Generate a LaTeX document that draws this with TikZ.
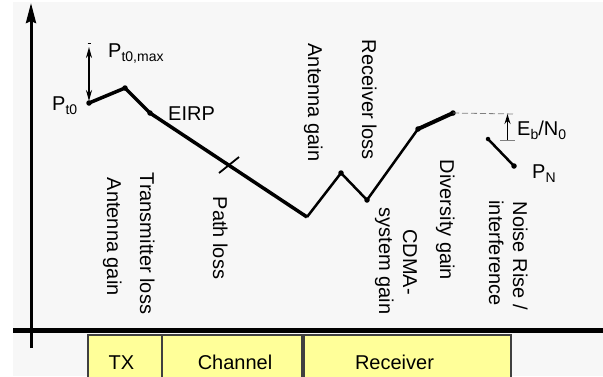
\documentclass[tikz,border=0pt]{standalone}
\usepackage{fontspec}
\setmainfont{Liberation Sans}
\usetikzlibrary{arrows.meta}
\definecolor{bg}{HTML}{F7F7F7}
\definecolor{boxyel}{HTML}{FFFF99}
\newcommand{\sbs}[1]{\raisebox{-4.5pt}{\fontsize{14}{14}\selectfont #1}}
\begin{document}
\begin{tikzpicture}[x=1pt,y=-1pt,
  lbl/.style={font=\fontsize{20}{24}\selectfont, inner sep=0pt},
  vlbl/.style={lbl, rotate=-90, anchor=base},
  dot/.style={circle, fill=black, inner sep=0pt, minimum size=5.5pt},
  boxst/.style={draw=black!75, fill=boxyel, line width=1.5pt, inner sep=0pt, anchor=north west, minimum height=46pt},
  curvethick/.style={line width=3.5pt, line join=round},
  curvethin/.style={line width=2.5pt, line join=round},
  guide/.style={gray, line width=0.8pt}]
\useasboundingbox (0,0) rectangle (603,376);
\fill[bg] (13,2) rectangle (603,376);

% boxes
\node[boxst, minimum width=74pt] (tx) at (87,334) {};
\node[boxst, minimum width=140pt] (ch) at (161,334) {};
\node[boxst, minimum width=207pt] (rx) at (303,334) {};
\node[lbl, anchor=base] (ttx) at (121.5,369) {TX};
\node[lbl, anchor=base] (tch) at (235,369) {Channel};
\node[lbl, anchor=base] (trx) at (394.5,369) {Receiver};

% axes
\coordinate (hl) at (13,330.5);
\coordinate (hr) at (603,330.5);
\draw[line width=4.5pt] (hl) -- (hr);
\coordinate (axb) at (31,348);
\coordinate (axt) at (31,3);
\draw[line width=3pt, -{Stealth[length=20pt,width=10pt,inset=2pt]}] (axb) -- (axt);

% curve points
\node[dot] (pt0) at (89,103) {};
\node[dot] (peak) at (125,88) {};
\node[dot] (eirp) at (150,113) {};
\coordinate (bot) at (307,217);
\node[dot] (ag) at (341,173) {};
\node[dot] (rl) at (367,200) {};
\node[dot] (dv) at (418,129) {};
\node[dot] (top) at (453,113) {};
\node[dot, minimum size=4.5pt] (n1) at (488,139) {};
\node[dot] (pn) at (514,166) {};

\draw[curvethick] (pt0.center) -- (peak.center) -- (eirp.center) -- (bot);
\draw[curvethin] (bot) -- (ag.center) -- (rl.center) -- (dv.center);
\draw[line width=4pt, line cap=round] (dv.center) -- (top.center);
\draw[line width=2.5pt] (n1.center) -- (pn.center);

% path loss tick
\coordinate (tk1) at (219,173);
\coordinate (tk2) at (239,157);
\draw[line width=1.8pt] (tk1) -- (tk2);

% Pt0,max arrow
\coordinate (pma) at (89,47);
\coordinate (pmb) at (89,101);
\draw[line width=1.5pt, {Stealth[length=11pt,width=6pt]}-{Stealth[length=11pt,width=6pt]}] (pma) -- (pmb);
\coordinate (dsh1) at (87.5,43);
\coordinate (dsh2) at (90.5,43);
\draw[line width=1pt] (dsh1) -- (dsh2);

% Eb/N0 marker
\coordinate (ebu) at (515,114);
\coordinate (ebl1) at (500,140);
\coordinate (ebl2) at (515,140);
\draw[guide, dash pattern=on 6pt off 3pt] (top.center) -- (ebu);
\draw[guide] (ebl1) -- (ebl2);
\coordinate (ea) at (507.5,140);
\coordinate (eb) at (507.5,114);
\draw[line width=1.5pt, -{Stealth[length=10pt,width=6pt]}] (ea) -- (eb);

% labels
\node[lbl, anchor=base west] (lpt0) at (52,110) {P\sbs{t0}};
\node[lbl, anchor=base west] (lpmax) at (108,57) {P\sbs{t0,max}};
\node[lbl, anchor=base west] (leirp) at (168,120) {EIRP};
\node[lbl, anchor=base west] (leb) at (517,135) {E\sbs{b}/N\sbs{0}};
\node[lbl, anchor=base west] (lpn) at (532,178) {P\sbs{N}};

% rotated labels
\node[vlbl] (vag1) at (107,236.7) {Antenna gain};
\node[vlbl] (vtl) at (140,243.3) {Transmitter loss};
\node[vlbl] (vpl) at (213,238) {Path loss};
\node[vlbl] (vag2) at (308,102.5) {Antenna gain};
\node[vlbl] (vrl) at (362,100) {Receiver loss};
\node[vlbl] (vcd) at (403,262) {CDMA-};
\node[vlbl] (vsg) at (379,261) {system gain};
\node[vlbl] (vdg) at (440,220) {Diversity gain};
\node[vlbl] (vnr) at (513,255.8) {Noise Rise /};
\node[vlbl] (vif) at (489,253.3) {interference};
\end{tikzpicture}
\end{document}
